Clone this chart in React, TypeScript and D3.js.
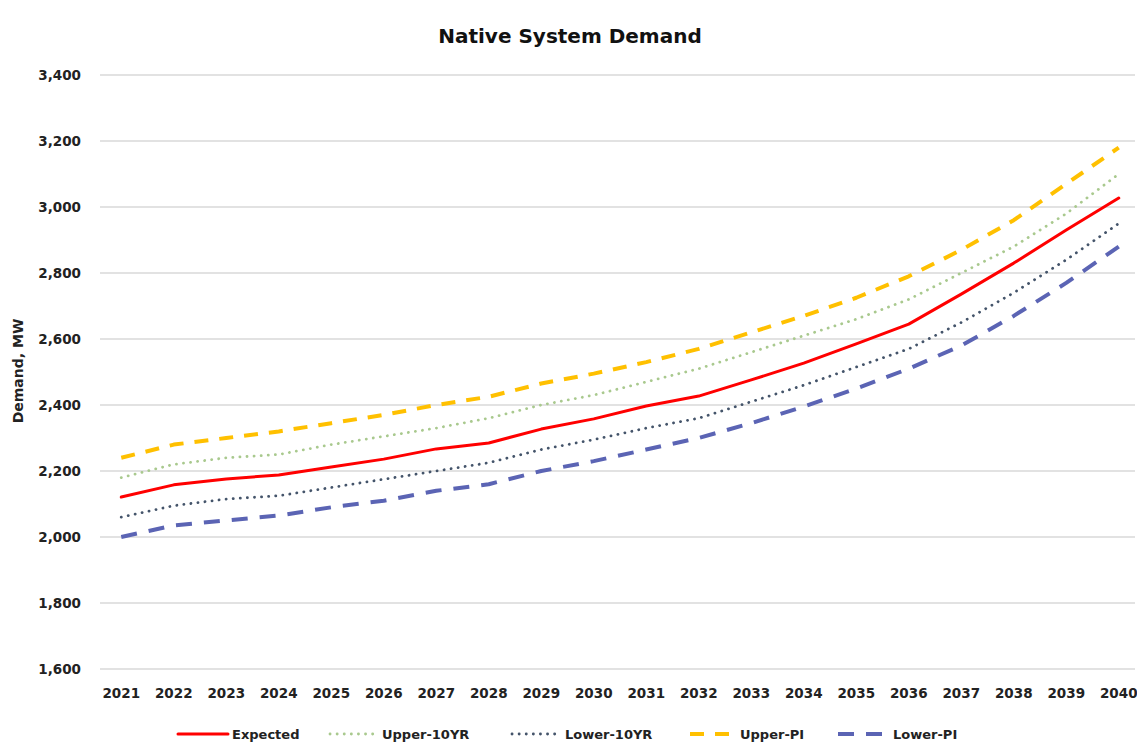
import React from "react";
import * as d3 from "d3";

const years = [2021,2022,2023,2024,2025,2026,2027,2028,2029,2030,2031,2032,2033,2034,2035,2036,2037,2038,2039,2040];
const expected = [2121,2158,2176,2188,2212,2236,2267,2285,2327,2358,2397,2427,2476,2527,2585,2645,2736,2830,2930,3027];
const upper10 = [2180,2220,2240,2250,2280,2305,2330,2360,2400,2430,2470,2510,2560,2610,2660,2720,2800,2880,2980,3100];
const lower10 = [2060,2095,2115,2125,2150,2175,2200,2225,2265,2295,2330,2360,2410,2460,2515,2570,2650,2740,2840,2950];
const upperPI = [2240,2280,2300,2320,2345,2370,2400,2425,2465,2495,2530,2570,2620,2670,2725,2790,2870,2960,3070,3180];
const lowerPI = [2000,2035,2050,2065,2090,2110,2140,2160,2200,2230,2265,2300,2345,2395,2450,2510,2580,2670,2770,2880];
const yTicks = [1600,1800,2000,2200,2400,2600,2800,3000,3200,3400];

const series = [
  { name: "Expected", values: expected, color: "#ff0000", width: 3, dash: "", cap: "round" },
  { name: "Upper-10YR", values: upper10, color: "#a9c98e", width: 2.8, dash: "0.1,7", cap: "round" },
  { name: "Lower-10YR", values: lower10, color: "#44546a", width: 2.8, dash: "0.1,7", cap: "round" },
  { name: "Upper-PI", values: upperPI, color: "#ffc000", width: 4, dash: "14,11", cap: "butt" },
  { name: "Lower-PI", values: lowerPI, color: "#5b64b4", width: 4, dash: "16,12", cap: "butt" },
];

const legendPos = [
  { lx: 178, lw: 50, tx: 232 },
  { lx: 330, lw: 45, tx: 382 },
  { lx: 512, lw: 45, tx: 565 },
  { lx: 690, lw: 45, tx: 740 },
  { lx: 838, lw: 46, tx: 893 },
];

const FONT = "'DejaVu Sans', Verdana, sans-serif";

export default function App() {
  const W = 1137, H = 746;
  const left = 95, right = 1145;
  const x = d3.scaleBand<number>().domain(years).range([left, right]);
  const y = d3.scaleLinear().domain([1600, 3400]).range([669, 75]);
  const line = d3.line<number>()
    .x((_, i) => (x(years[i]) as number) + x.bandwidth() / 2)
    .y(d => y(d))
    .curve(d3.curveLinear);

  return (
    <svg width={W} height={H} style={{ position: "absolute", left: 0, top: 0, background: "#fff" }} fontFamily={FONT}>
      <text x={570} y={43} textAnchor="middle" fontSize={20} fontWeight="bold" fill="#111">Native System Demand</text>
      {yTicks.map(t => (
        <g key={t}>
          <line x1={100} x2={1135} y1={y(t)} y2={y(t)} stroke="#d9d9d9" strokeWidth={1.5} />
          <text x={81} y={y(t)} dy="0.35em" textAnchor="end" fontSize={13.5} fontWeight="bold" fill="#222">{d3.format(",")(t)}</text>
        </g>
      ))}
      {years.map(yr => (
        <text key={yr} x={(x(yr) as number) + x.bandwidth() / 2} y={693} dy="0.35em" textAnchor="middle" fontSize={13.5} fontWeight="bold" fill="#222">{yr}</text>
      ))}
      <text transform="translate(18,371) rotate(-90)" textAnchor="middle" dy="0.35em" fontSize={14} fontWeight="bold" fill="#222">Demand,  MW</text>
      {series.map(s => (
        <path key={s.name} d={line(s.values) || ""} fill="none" stroke={s.color} strokeWidth={s.width}
          strokeDasharray={s.dash || undefined} strokeLinecap={s.cap as any} strokeLinejoin="round" />
      ))}
      {series.map((s, i) => (
        <g key={s.name}>
          <line x1={legendPos[i].lx} x2={legendPos[i].lx + legendPos[i].lw} y1={734} y2={734} stroke={s.color}
            strokeWidth={s.width} strokeDasharray={s.dash || undefined} strokeLinecap={s.cap as any} />
          <text x={legendPos[i].tx} y={734} dy="0.35em" fontSize={13} fontWeight="bold" fill="#222">{s.name}</text>
        </g>
      ))}
    </svg>
  );
}
